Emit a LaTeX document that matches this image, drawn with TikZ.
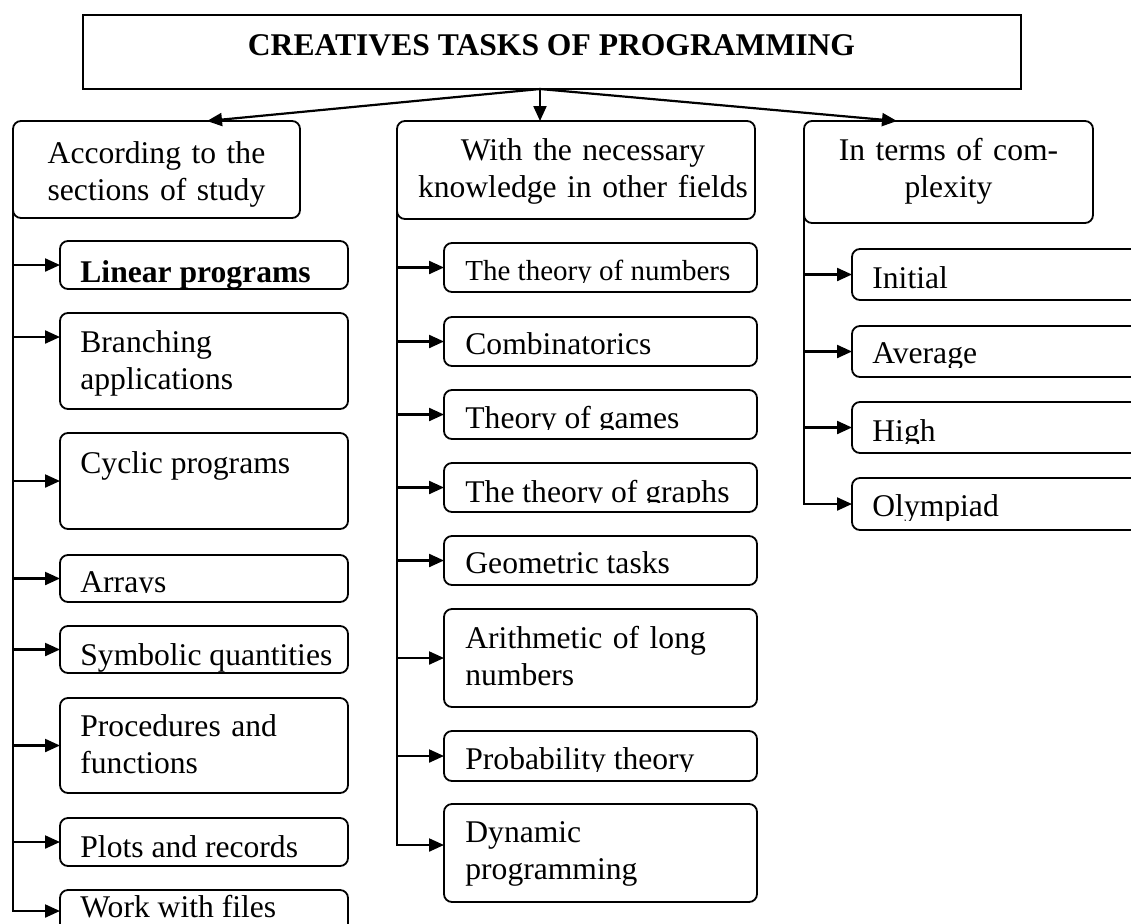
\documentclass[tikz,border=0pt]{standalone}
\usepackage{fontspec}
\setmainfont{Liberation Serif}
\usetikzlibrary{arrows.meta,fit}

\begin{document}
\begin{tikzpicture}[x=0.5pt,y=-0.5pt,
  font=\fontsize{15.8}{18.5}\selectfont,
  box/.style={draw, line width=0.9pt, rounded corners=4pt, inner sep=0pt, outer sep=0pt},
  titlebox/.style={draw, line width=1pt, inner sep=0pt, outer sep=0pt},
  conn/.style={line width=1.1pt},
  arr/.style={conn, -{Triangle[length=7.5pt,width=6.5pt]}},
  txt/.style={anchor=base west, inner sep=0pt},
  ctxt/.style={anchor=base, inner sep=0pt, align=center},
  ltxt/.style={anchor=base west, inner sep=0pt, align=left, text width=135pt},
]
\useasboundingbox (0,0) rectangle (1131,923);

% ---------- title ----------
\node[titlebox, fit={(83,15) (1021,89)}] (title) {};
\node[ctxt, font=\fontsize{15.8}{18.5}\selectfont\bfseries] (titletext)
  at (551.5,55) {CREATIVES TASKS OF PROGRAMMING};

% ---------- three classification boxes ----------
\node[box, fit={(13,121) (300,218)}] (top1) {};
\node[ctxt, text width=140pt] (top1text) at (156.5,163) {According to the\\sections of study};
\node[box, fit={(397,121) (755,219)}] (top2) {};
\node[ctxt, text width=175pt] (top2text) at (583,160) {With the necessary\\knowledge in other fields};
\node[box, fit={(804,121) (1093,223)}] (top3) {};
\node[ctxt, text width=140pt] (top3text) at (948.5,160) {In terms of com-\\plexity};

\coordinate (apex) at ([xshift=-6pt]title.south);
\draw[arr] (apex) -- ([xshift=25.25pt]top1.north);
\draw[arr] (apex) -- ([xshift=-18pt]top2.north);
\draw[arr] (apex) -- ([xshift=-25.75pt]top3.north);

% ---------- sections of study ----------
\node[box, fit={(60,241) (348,289)}] (lin) {};
\node[txt, font=\fontsize{15.8}{18.5}\selectfont\bfseries] (lintext) at (80,282) {Linear programs};

\node[box, fit={(60,313) (348,409)}] (br) {};
\node[ltxt] (brtext) at (80,352) {Branching\\applications};
\coordinate (brin) at ([yshift=-12pt]br.north west);

\node[box, fit={(60,433) (348,529)}] (cyc) {};
\node[txt] (cyctext) at (80,473) {Cyclic programs};

\node[box, fit={(60,555) (348,602)}] (arrays) {};
\begin{scope}
  \clip (arrays.north west) rectangle ([yshift=5pt]arrays.south east);
  \node[txt] (arraystext) at (80,592) {Arrays};
\end{scope}

\node[box, fit={(60,626) (348,673)}] (sym) {};
\node[txt] (symtext) at (80,665) {Symbolic quantities};

\node[box, fit={(60,698) (348,793)}] (proc) {};
\node[ltxt] (proctext) at (80,736) {Procedures and\\functions};

\node[box, fit={(60,818) (348,866)}] (plot) {};
\node[txt] (plottext) at (80,857) {Plots and records};

\node[box, fit={(60,890) (348,932)}] (wf) {};
\node[txt] (wftext) at (80,917) {Work with files};

\coordinate (tL) at ([yshift=4pt]top1.south west);
\draw[arr] (tL) |- (wf.west);
\foreach \b in {lin,cyc,arrays,sym,proc,plot}
  \draw[arr] (tL |- \b.west) -- (\b.west);
\draw[arr] (tL |- brin) -- (brin);

% ---------- knowledge in other fields ----------
\node[box, fit={(444,243) (757,292)}] (num) {};
\begin{scope}
  \clip (num.north west) rectangle ([yshift=5pt]num.south east);
  \node[txt, font=\fontsize{14.5}{17}\selectfont] (numtext) at (465,280) {The theory of numbers};
\end{scope}

\node[box, fit={(444,317) (757,366)}] (comb) {};
\node[txt] (combtext) at (465,354) {Combinatorics};

\node[box, fit={(444,390) (757,439)}] (games) {};
\begin{scope}
  \clip (games.north west) rectangle ([yshift=5pt]games.south east);
  \node[txt] (gamestext) at (465,428) {Theory of games};
\end{scope}

\node[box, fit={(444,463) (757,512)}] (graphs) {};
\begin{scope}
  \clip (graphs.north west) rectangle ([yshift=5pt]graphs.south east);
  \node[txt] (graphstext) at (465,502) {The theory of graphs};
\end{scope}

\node[box, fit={(444,536) (757,585)}] (geo) {};
\node[txt] (geotext) at (465,573) {Geometric tasks};

\node[box, fit={(444,609) (757,707)}] (arith) {};
\node[ltxt] (arithtext) at (465,648) {Arithmetic of long\\numbers};

\node[box, fit={(444,731) (757,781)}] (prob) {};
\begin{scope}
  \clip (prob.north west) rectangle ([yshift=5pt]prob.south east);
  \node[txt] (probtext) at (465,769) {Probability theory};
\end{scope}

\node[box, fit={(444,804) (757,902)}] (dyn) {};
\node[ltxt] (dyntext) at (465,842) {Dynamic\\programming};
\coordinate (dynin) at ([yshift=-20.5pt]dyn.north west);

\coordinate (tM) at ([yshift=4pt]top2.south west);
\draw[arr] (tM) |- (dynin);
\foreach \b in {num,comb,games,graphs,geo,arith,prob}
  \draw[arr] (tM |- \b.west) -- (\b.west);

% ---------- complexity ----------
\node[box, fit={(852,249) (1140,300)}] (ini) {};
\node[txt] (initext) at (872,288) {Initial};

\node[box, fit={(852,326) (1140,377)}] (avg) {};
\begin{scope}
  \clip (avg.north west) rectangle ([yshift=5pt]avg.south east);
  \node[txt] (avgtext) at (872,363) {Average};
\end{scope}

\node[box, fit={(852,402) (1140,453)}] (high) {};
\begin{scope}
  \clip (high.north west) rectangle ([yshift=5pt]high.south east);
  \node[txt] (hightext) at (872,441) {High};
\end{scope}

\node[box, fit={(852,478) (1140,530)}] (oly) {};
\begin{scope}
  \clip (oly.north west) rectangle ([yshift=5pt]oly.south east);
  \node[txt] (olytext) at (872,516) {Olympiad};
\end{scope}

\coordinate (tR) at ([yshift=4pt]top3.south west);
\draw[arr] (tR) |- (oly.west);
\foreach \b in {ini,avg,high}
  \draw[arr] (tR |- \b.west) -- (\b.west);

\end{tikzpicture}
\end{document}
